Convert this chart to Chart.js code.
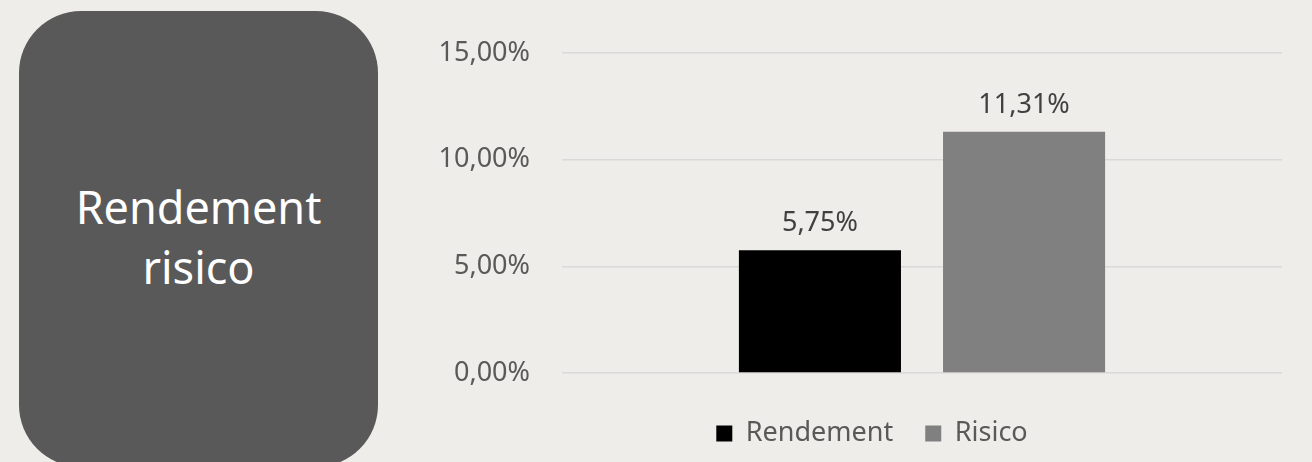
<!DOCTYPE html>
<html>
<head>
<meta charset="utf-8">
<script src="https://cdn.jsdelivr.net/npm/chart.js@4.4.1/dist/chart.umd.min.js"></script>
<style>
  html, body { margin: 0; padding: 0; }
  body {
    width: 1312px; height: 462px; overflow: hidden; position: relative;
    background: #eeede9; font-family: 'Noto Sans', sans-serif;
  }
  .titel {
    position: absolute; left: 19px; top: 11px; width: 359px; height: 456px;
    background: #595959; border-radius: 62px;
  }
  .titel span {
    position: absolute; left: 0; right: 0; top: 166px;
    color: #ffffff; font-size: 45px; line-height: 60px; text-align: center;
  }
  .grafiek { position: absolute; left: 430px; top: 0; width: 882px; height: 462px; }
</style>
</head>
<body>
<div class="titel"><span>Rendement<br>risico</span></div>
<div class="grafiek"><canvas id="rendement-chart"></canvas></div>
<script>
// Gegevens
const categorieen = [''];
const rendementWaarden = [5.75];
const risicoWaarden = [11.31];
const yTicks = [0, 5, 10, 15];

const opmaak = v => v.toFixed(2).replace('.', ',') + '%';

// Waarden boven de staven
const waardeLabels = {
    id: 'waardeLabels',
    afterDatasetsDraw(chart) {
        const ctx = chart.ctx;
        ctx.save();
        ctx.font = '27px "Noto Sans"';
        ctx.fillStyle = '#404040';
        ctx.textAlign = 'center';
        ctx.textBaseline = 'alphabetic';
        chart.data.datasets.forEach((ds, i) => {
            chart.getDatasetMeta(i).data.forEach((bar, j) => {
                ctx.fillText(opmaak(ds.data[j]), bar.x, bar.y - 19);
            });
        });
        ctx.restore();
    }
};

// Legenda iets naar rechts, zoals in het origineel
const legendaVerschuiving = {
    id: 'legendaVerschuiving',
    afterLayout(chart) {
        chart.legend.left += 16;
        chart.legend.right += 16;
    }
};

Chart.defaults.font.family = '"Noto Sans"';

const ctx = document.getElementById('rendement-chart').getContext('2d');
new Chart(ctx, {
    type: 'bar',
    data: {
        labels: categorieen,
        datasets: [{
            label: 'Rendement',
            data: rendementWaarden,
            backgroundColor: '#000000',
            categoryPercentage: 0.567,
            barPercentage: 0.794
        }, {
            label: 'Risico',
            data: risicoWaarden,
            backgroundColor: '#808080',
            categoryPercentage: 0.567,
            barPercentage: 0.794
        }]
    },
    options: {
        responsive: true,
        maintainAspectRatio: false,
        animation: false,
        layout: {
            padding: { top: 53, right: 30, bottom: 5, left: 0 }
        },
        plugins: {
            legend: {
                position: 'bottom',
                labels: {
                    boxWidth: 16,
                    boxHeight: 16,
                    padding: 32,
                    color: '#595959',
                    font: { size: 27 }
                }
            },
            tooltip: { enabled: false }
        },
        scales: {
            x: {
                grid: { display: false },
                border: { display: false },
                ticks: { display: false },
                afterFit: scale => { scale.height = 15; }
            },
            y: {
                min: 0,
                max: 15,
                afterBuildTicks: scale => { scale.ticks = yTicks.map(v => ({ value: v })); },
                afterFit: scale => { scale.width = 132; },
                grid: { color: '#d9d9d9', lineWidth: 1.5, drawTicks: false },
                border: { display: false },
                ticks: {
                    padding: 32,
                    color: '#595959',
                    font: { size: 27 },
                    callback: v => opmaak(v)
                }
            }
        }
    },
    plugins: [waardeLabels, legendaVerschuiving]
});
</script>
</body>
</html>
